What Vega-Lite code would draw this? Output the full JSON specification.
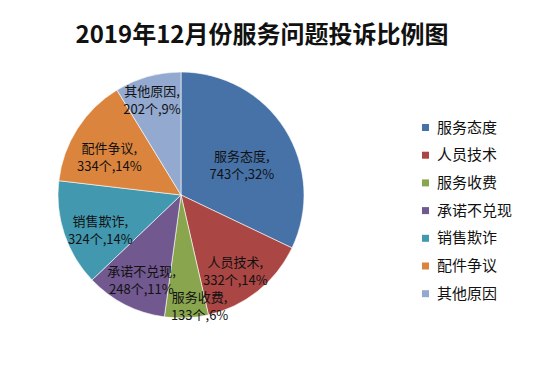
{
  "$schema": "https://vega.github.io/schema/vega-lite/v6.json",
  "width": 362,
  "height": 250,
  "autosize": {"type": "none"},
  "padding": {"left": 0, "top": 70, "right": 188, "bottom": 60},
  "background": "white",
  "title": {
    "text": "2019年12月份服务问题投诉比例图",
    "font": "Noto Sans CJK SC",
    "fontSize": 24,
    "fontWeight": "bold",
    "color": "#111111",
    "anchor": "middle",
    "frame": "group",
    "dx": 81,
    "offset": 22
  },
  "data": {
    "values": [
      {"idx": 1, "name": "服务态度", "count": 743, "pct": 32},
      {"idx": 2, "name": "人员技术", "count": 332, "pct": 14},
      {"idx": 3, "name": "服务收费", "count": 133, "pct": 6},
      {"idx": 4, "name": "承诺不兑现", "count": 248, "pct": 11},
      {"idx": 5, "name": "销售欺诈", "count": 324, "pct": 14},
      {"idx": 6, "name": "配件争议", "count": 334, "pct": 14},
      {"idx": 7, "name": "其他原因", "count": 202, "pct": 9}
    ]
  },
  "transform": [
    {"stack": "count", "groupby": [], "offset": "normalize", "sort": [{"field": "idx", "order": "ascending"}], "as": ["s0", "s1"]},
    {"calculate": "(datum.s0 + datum.s1) / 2", "as": "mid"},
    {"calculate": "[datum.name + ',', datum.count + '个,' + datum.pct + '%']", "as": "label"}
  ],
  "layer": [
    {
      "mark": {"type": "arc", "outerRadius": 123, "stroke": "#ffffff", "strokeWidth": 0.6},
      "encoding": {
        "theta": {"field": "s0", "type": "quantitative", "stack": null, "scale": {"domain": [0, 1], "nice": false, "zero": true}},
        "theta2": {"field": "s1"},
        "color": {
          "field": "name",
          "type": "nominal",
          "scale": {
            "domain": ["服务态度", "人员技术", "服务收费", "承诺不兑现", "销售欺诈", "配件争议", "其他原因"],
            "range": ["#4672a8", "#aa4643", "#89a54e", "#71588f", "#4198af", "#db843d", "#93a9cf"]
          },
          "legend": {
            "title": null,
            "orient": "none",
            "legendX": 418,
            "legendY": 50,
            "padding": 0,
            "symbolType": "square",
            "symbolSize": 49,
            "symbolStrokeWidth": 0,
            "labelFont": "Noto Sans CJK SC",
            "labelFontSize": 15,
            "labelColor": "#111111",
            "labelOffset": 4,
            "rowPadding": 11.7
          }
        }
      }
    },
    {
      "transform": [{"filter": "datum.name === '服务态度'"}],
      "mark": {"type": "text", "radius": 72, "font": "Noto Sans CJK SC", "fontSize": 13, "lineHeight": 18, "color": "#111111", "align": "center", "baseline": "middle"},
      "encoding": {
        "theta": {"field": "mid", "type": "quantitative", "stack": null, "scale": {"domain": [0, 1], "nice": false, "zero": true}},
        "text": {"field": "label"}
      }
    },
    {
      "transform": [{"filter": "indexof(['人员技术', '承诺不兑现'], datum.name) >= 0"}],
      "mark": {"type": "text", "radius": 87, "font": "Noto Sans CJK SC", "fontSize": 13, "lineHeight": 18, "color": "#111111", "align": "center", "baseline": "middle"},
      "encoding": {
        "theta": {"field": "mid", "type": "quantitative", "stack": null, "scale": {"domain": [0, 1], "nice": false, "zero": true}},
        "text": {"field": "label"}
      }
    },
    {
      "transform": [{"filter": "indexof(['销售欺诈', '配件争议'], datum.name) >= 0"}],
      "mark": {"type": "text", "radius": 85, "font": "Noto Sans CJK SC", "fontSize": 13, "lineHeight": 18, "color": "#111111", "align": "center", "baseline": "middle"},
      "encoding": {
        "theta": {"field": "mid", "type": "quantitative", "stack": null, "scale": {"domain": [0, 1], "nice": false, "zero": true}},
        "text": {"field": "label"}
      }
    },
    {
      "transform": [{"filter": "datum.name === '服务收费'"}],
      "mark": {"type": "text", "radius": 103, "dx": 14, "font": "Noto Sans CJK SC", "fontSize": 13, "lineHeight": 18, "color": "#111111", "align": "center", "baseline": "middle"},
      "encoding": {
        "theta": {"field": "mid", "type": "quantitative", "stack": null, "scale": {"domain": [0, 1], "nice": false, "zero": true}},
        "text": {"field": "label"}
      }
    },
    {
      "transform": [{"filter": "datum.name === '其他原因'"}],
      "mark": {"type": "text", "radius": 107, "font": "Noto Sans CJK SC", "fontSize": 13, "lineHeight": 18, "color": "#111111", "align": "center", "baseline": "middle"},
      "encoding": {
        "theta": {"field": "mid", "type": "quantitative", "stack": null, "scale": {"domain": [0, 1], "nice": false, "zero": true}},
        "text": {"field": "label"}
      }
    }
  ],
  "config": {"view": {"stroke": null}}
}
